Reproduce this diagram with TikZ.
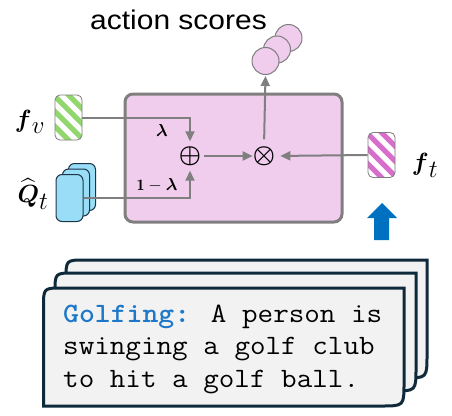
\documentclass[tikz,border=0pt]{standalone}
\usepackage{amsmath}
\usepackage{fontspec}
\newfontfamily\arialfont{Liberation Sans}
\usetikzlibrary{arrows.meta}
\definecolor{pinkbg}{RGB}{241,205,237}
\definecolor{grayline}{RGB}{127,127,127}
\definecolor{greenst}{RGB}{146,214,110}
\definecolor{magst}{RGB}{216,110,204}
\definecolor{qblue}{RGB}{153,221,247}
\definecolor{qedge}{RGB}{30,53,69}
\definecolor{bigblue}{RGB}{0,112,192}
\definecolor{cardfill}{RGB}{242,242,242}
\definecolor{cardedge}{RGB}{14,42,58}
\definecolor{golfblue}{RGB}{30,120,200}
\newcommand\mycard[4]{%
  \draw[cardstyle] (#1,#4) -- (#1,{#2+19}) .. controls (#1,#2) .. ({#1+19},#2)
    -- (#3,#2) -- (#3,{#4-23}) .. controls (#3,#4) .. ({#3-23},#4) -- cycle;}
\tikzset{
  garrow/.style={draw=grayline, line width=2pt, -{Triangle[length=10pt,width=9pt]}},
  stripes/.style={draw=grayline, line width=0.8pt, rounded corners=5pt, fill=#1,
    minimum width=27pt, minimum height=45pt, inner sep=0pt,
    path picture={\foreach \k in {-4,...,4}{
      \draw[white, line width=5pt] ([xshift=\k*15pt]path picture bounding box.center)
        ++(-40pt,40pt) -- ++(80pt,-80pt);}}},
  qbox/.style={draw=qedge, line width=1pt, fill=qblue, rounded corners=6pt,
    minimum width=27pt, minimum height=47pt, inner sep=0pt},
  score/.style={circle, draw=grayline, line width=1pt, fill=pinkbg,
    minimum size=27pt, inner sep=0pt},
  opsym/.style={inner sep=0pt, font=\fontsize{33}{33}\selectfont},
  cardstyle/.style={draw=cardedge, line width=3pt, fill=cardfill, line join=miter},
  cardtext/.style={anchor=base west, inner sep=0pt, font=\fontsize{28}{32}\selectfont\ttfamily},
  mathlbl/.style={inner sep=0pt, font=\fontsize{25}{25}\selectfont},
}
\begin{document}
\begin{tikzpicture}[x=1pt,y=-1pt]
\useasboundingbox (0,0) rectangle (452,415);
% main box
\node[draw=grayline, line width=3pt, fill=pinkbg, rounded corners=8pt,
  minimum width=217pt, minimum height=128pt] (core) at (233.5,158) {};
% title
\node[anchor=base, inner sep=0pt, font=\fontsize{27}{27}\selectfont\arialfont] (title) at (178.5,29)
  {\scalebox{1.11}[1]{action scores}};
% score circles
\node[score] (c3) at (288.5,38) {};
\node[score] (c2) at (277,49.5) {};
\node[score] (c1) at (265.5,61) {};
% operators
\node[opsym] (plus) at (190,156) {$\boldsymbol{\oplus}$};
\node[opsym] (times) at (264,156) {$\boldsymbol{\otimes}$};
% feature boxes
\node[stripes=greenst] (fv) at (68.5,117.5) {};
\node[stripes=magst] (ft) at (381.5,155) {};
\node[qbox] (qa) at (82,187) {};
\node[qbox] (qb) at (76,192.5) {};
\node[qbox] (qc) at (69.5,198) {};
% labels
\node[mathlbl] (lfv) at (30,122) {$\boldsymbol{f}_{\textstyle v}$};
\node[mathlbl] (lq) at (33,194) {$\widehat{\boldsymbol{Q}}_{\textstyle t}$};
\node[mathlbl] (lft) at (425,165) {$\boldsymbol{f}_{\textstyle t}$};
\node[inner sep=0pt, font=\fontsize{16}{16}\selectfont] (lam) at (162,130) {$\boldsymbol{\lambda}$};
\node[inner sep=0pt, font=\fontsize{16}{16}\selectfont] (olam) at (157,185) {$\mathbf{1}-\boldsymbol{\lambda}$};
% connectors
\draw[garrow, shorten >=5pt] (fv.east) -| (plus.north);
\draw[garrow, shorten >=5pt] (qc.east) -| (plus.south);
\draw[garrow, shorten <=3pt] (plus.east) -- (times.west);
\draw[garrow, shorten >=5pt] (ft.west) -- (times.east);
\draw[garrow, shorten <=7pt, shorten >=1pt] (times.north) -- (c1.south);
% big blue arrow
\fill[bigblue] (374,240) -- (374,218) -- (367,218) -- (382,203) -- (397,218) -- (389,218) -- (389,240) -- cycle;
% cards
\mycard{66}{260}{427}{378}
\mycard{55}{273}{416}{391}
\mycard{43.5}{288}{404}{406}
\node[cardtext] (t1) at (63,322) {\scalebox{1.08}[1]{\textcolor{golfblue}{\bfseries Golfing:} A person is}};
\node[cardtext] (t2) at (63,354.5) {\scalebox{1.08}[1]{swinging a golf club}};
\node[cardtext] (t3) at (63,387) {\scalebox{1.08}[1]{to hit a golf ball.}};
\end{tikzpicture}
\end{document}
